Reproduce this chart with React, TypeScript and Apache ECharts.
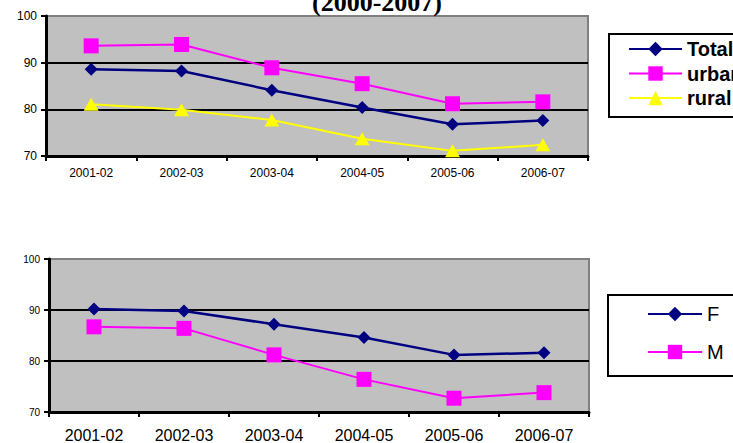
import React, { useEffect, useRef } from "react";
import * as echarts from "echarts";

const categories = ["2001-02", "2002-03", "2003-04", "2004-05", "2005-06", "2006-07"];
const totalValues = [88.6, 88.2, 84.1, 80.4, 76.8, 77.6];
const urbanValues = [93.6, 93.9, 88.9, 85.5, 81.2, 81.6];
const ruralValues = [81.1, 79.9, 77.7, 73.7, 71.1, 72.4];
const femaleValues = [90.2, 89.8, 87.2, 84.6, 81.2, 81.6];
const maleValues = [86.7, 86.4, 81.2, 76.4, 72.7, 73.8];
const titleText = "(2000-2007)";

const NAVY = "#000080";
const MAGENTA = "#FF00FF";
const YELLOW = "#FFFF00";

export default function App() {
  const ref = useRef<HTMLDivElement>(null);
  useEffect(() => {
    if (!ref.current) return;
    const chart = echarts.init(ref.current, null, { renderer: "svg" });
    const yAxisCommon = (fs: number) => ({
      type: "value",
      min: 70,
      max: 100,
      interval: 10,
      axisLine: { show: true, lineStyle: { color: "#000", width: 3 } },
      axisTick: { show: true, inside: false, length: 5, lineStyle: { color: "#000", width: 2 } },
      axisLabel: { color: "#000", fontFamily: "Arial, Liberation Sans", fontSize: fs, margin: 9 },
      splitLine: { show: true, lineStyle: { color: ["transparent", "#000", "#000", "transparent"], width: 2 } },
    });
    const xAxisCommon = (fs: number, margin: number) => ({
      type: "category",
      data: categories,
      boundaryGap: true,
      axisLine: { show: true, lineStyle: { color: "#000", width: 3 } },
      axisTick: { show: true, inside: false, length: 5, lineStyle: { color: "#000", width: 2 } },
      axisLabel: { color: "#000", fontFamily: "Arial, Liberation Sans", fontSize: fs, margin, interval: 0 },
    });
    chart.setOption({
      animation: false,
      backgroundColor: "#fff",
      grid: [
        { left: 46, top: 16, width: 542, height: 140, show: true, backgroundColor: "#C0C0C0", borderColor: "#808080", borderWidth: 2 },
        { left: 49, top: 259, width: 540, height: 154, show: true, backgroundColor: "#C0C0C0", borderColor: "#808080", borderWidth: 2 },
      ],
      xAxis: [
        { ...xAxisCommon(12, 11), gridIndex: 0 },
        { ...xAxisCommon(16, 15), gridIndex: 1 },
      ],
      yAxis: [
        { ...yAxisCommon(12), gridIndex: 0 },
        { ...yAxisCommon(10), gridIndex: 1 },
      ],
      legend: [
        {
          orient: "vertical",
          left: 623,
          top: 34,
          itemWidth: 53,
          itemHeight: 18,
          itemGap: 4.5,
          data: ["Total", "urban", "rural"],
          textStyle: { color: "#000", fontFamily: "Arial, Liberation Sans", fontSize: 20, fontWeight: "bold", lineHeight: 20 },
        },
        {
          orient: "vertical",
          left: 642,
          top: 299,
          itemWidth: 54,
          itemHeight: 18,
          itemGap: 18,
          data: ["F", "M"],
          textStyle: { color: "#000", fontFamily: "Arial, Liberation Sans", fontSize: 20, lineHeight: 20 },
        },
      ],
      graphic: [
        { type: "rect", z: -1, shape: { x: 609, y: 34, width: 140, height: 83 }, style: { fill: "#fff", stroke: "#000", lineWidth: 2 } },
        { type: "rect", z: -1, shape: { x: 608, y: 295, width: 140, height: 81 }, style: { fill: "#fff", stroke: "#000", lineWidth: 2 } },
        {
          type: "text",
          x: 377,
          y: 15,
          style: {
            text: titleText,
            fill: "#000",
            fontFamily: "Liberation Serif",
            fontWeight: "bold",
            fontSize: 26,
            textAlign: "center",
            textVerticalAlign: "bottom",
          },
        },
      ],
      series: [
        { name: "Total", type: "line", xAxisIndex: 0, yAxisIndex: 0, data: totalValues, symbol: "diamond", symbolSize: 13, color: NAVY, lineStyle: { color: NAVY, width: 2.5 }, itemStyle: { color: NAVY } },
        { name: "urban", type: "line", xAxisIndex: 0, yAxisIndex: 0, data: urbanValues, symbol: "rect", symbolSize: 15, color: MAGENTA, lineStyle: { color: MAGENTA, width: 2 }, itemStyle: { color: MAGENTA } },
        { name: "rural", type: "line", xAxisIndex: 0, yAxisIndex: 0, data: ruralValues, symbol: "triangle", symbolSize: [15, 13], color: YELLOW, lineStyle: { color: YELLOW, width: 2 }, itemStyle: { color: YELLOW } },
        { name: "F", type: "line", xAxisIndex: 1, yAxisIndex: 1, data: femaleValues, symbol: "diamond", symbolSize: 13, color: NAVY, lineStyle: { color: NAVY, width: 2.5 }, itemStyle: { color: NAVY } },
        { name: "M", type: "line", xAxisIndex: 1, yAxisIndex: 1, data: maleValues, symbol: "rect", symbolSize: 15, color: MAGENTA, lineStyle: { color: MAGENTA, width: 2 }, itemStyle: { color: MAGENTA } },
      ],
    });
    return () => chart.dispose();
  }, []);
  return <div ref={ref} style={{ position: "fixed", left: 0, top: 0, width: 733, height: 443 }} />;
}
